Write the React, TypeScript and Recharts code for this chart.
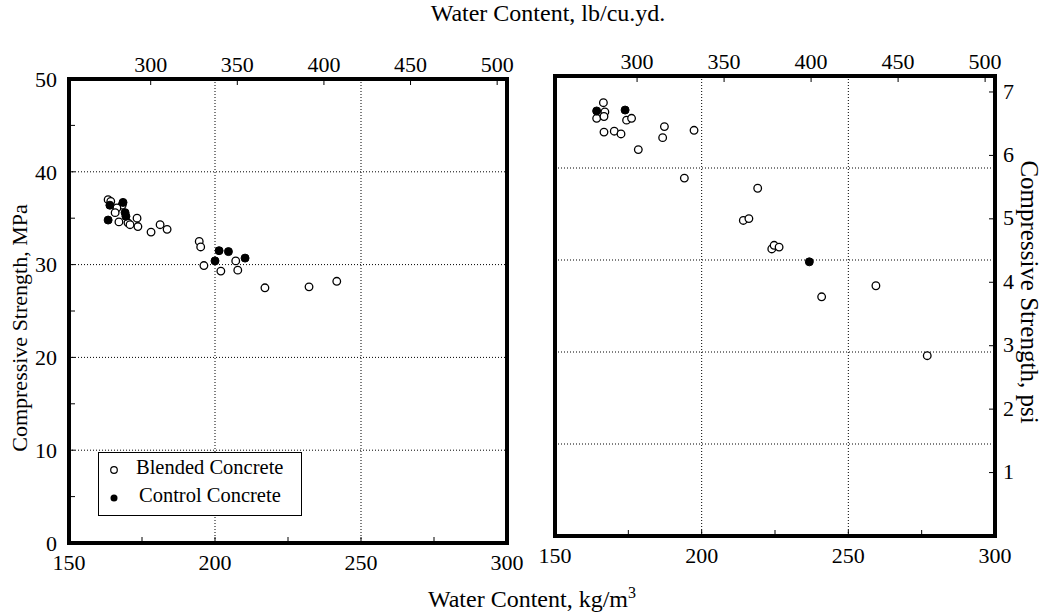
import React from "react"
import {
    ScatterChart,
    Scatter,
    XAxis,
    YAxis,
    CartesianGrid,
    ReferenceArea,
    Legend,
} from "recharts"

const FONT = '"Liberation Serif", "Times New Roman", serif'
const LB_PER_KG = 1.6856
const PSI_PER_MPA = 145.038

// axis ticks
const kgTicks = [150, 200, 250, 300]
const kgAllTicks = [150, 175, 200, 225, 250, 275, 300]
const lbTicks = [300, 350, 400, 450, 500]
const mpaTicks = [0, 10, 20, 30, 40, 50]
const mpaAllTicks = [0, 5, 10, 15, 20, 25, 30, 35, 40, 45, 50]
const psiTicks = [1000, 2000, 3000, 4000, 5000, 6000, 7000]

// left panel
const leftBlendedWater = [163.4, 164.3, 168.2, 166.4, 165.8, 167.1, 170.2, 173.3, 173.6, 170.9, 178.1, 181.2, 183.6, 194.6, 195.1, 196.2, 202.0, 207.1, 207.8, 217.1, 232.2, 241.7]
const leftBlendedStrength = [37.0, 36.8, 36.4, 36.1, 35.6, 34.6, 34.5, 35.0, 34.1, 34.3, 33.5, 34.3, 33.8, 32.5, 31.9, 29.9, 29.3, 30.4, 29.4, 27.5, 27.6, 28.2]
const leftControlWater = [164.0, 168.5, 169.2, 169.5, 163.4, 201.4, 204.6, 200.0, 210.3]
const leftControlStrength = [36.4, 36.7, 35.6, 35.2, 34.8, 31.5, 31.4, 30.4, 30.7]

// right panel
const rightBlendedWater = [166.5, 167.0, 164.2, 166.7, 174.4, 176.1, 166.7, 170.2, 172.5, 178.4, 187.3, 186.7, 197.4, 194.1, 219.1, 214.2, 216.1, 223.9, 224.7, 226.4, 240.9, 259.4, 276.9]
const rightBlendedStrength = [47.1, 46.1, 45.4, 45.6, 45.2, 45.4, 43.9, 44.0, 43.7, 42.0, 44.5, 43.3, 44.1, 38.9, 37.8, 34.3, 34.5, 31.2, 31.6, 31.4, 26.0, 27.2, 19.6]
const rightControlWater = [164.2, 173.9, 236.7]
const rightControlStrength = [46.2, 46.3, 29.8]

interface Pt {
    x: number
    y: number
}

const toPoints = (xs: number[], ys: number[]): Pt[] => xs.map((x, i) => ({ x, y: ys[i] }))

// lb/cu.yd ticks placed on the kg/m3 scale
const lbTicksInKg = lbTicks.map((v) => v / LB_PER_KG)

const TICK_FONT = 22
const TICK_LEN = 6

const OpenDot = (props: any) => (
    <circle cx={props.cx} cy={props.cy} r={3.8} fill="#fff" stroke="#000" strokeWidth={1.3} />
)
const FilledDot = (props: any) => (
    <circle cx={props.cx} cy={props.cy} r={4} fill="#000" stroke="#000" strokeWidth={1} />
)

const LegendBox = () => (
    <div
        style={{
            width: 204,
            height: 64,
            border: "1px solid #000",
            boxSizing: "border-box",
            background: "#fff",
            fontFamily: FONT,
            fontSize: 20.5,
            position: "relative",
            color: "#000",
        }}
    >
        <svg width={20} height={60} style={{ position: "absolute", left: 6, top: 0 }}>
            <circle cx={9} cy={17} r={3.3} fill="#fff" stroke="#000" strokeWidth={1.2} />
            <circle cx={9} cy={45} r={3.5} fill="#000" />
        </svg>
        <div style={{ position: "absolute", left: 37, top: 3, whiteSpace: "nowrap" }}>Blended Concrete</div>
        <div style={{ position: "absolute", left: 40, top: 31, whiteSpace: "nowrap" }}>Control Concrete</div>
    </div>
)

interface PanelProps {
    left: number
    width: number
    plotLeft: number
    plotRight: number
    plotTop: number
    plotBottom: number
    blended: Pt[]
    control: Pt[]
    mpaLabels: boolean
    psiLabels: boolean
    legend: boolean
}

const H = 615
const TOP_AXIS_H = 30
const BOTTOM_AXIS_H = 30
const MPA_AXIS_W = 40
const PSI_AXIS_W = 30

function Panel(p: PanelProps) {
    const margin = {
        top: p.plotTop - TOP_AXIS_H,
        bottom: H - p.plotBottom - BOTTOM_AXIS_H,
        left: p.plotLeft - (p.mpaLabels ? MPA_AXIS_W : 0),
        right: p.width - p.plotRight - (p.psiLabels ? PSI_AXIS_W : 0),
    }

    // ticks point into the frame, labels sit outside it
    const bottomTick = (t: any) => {
        const v = t.payload.value
        return (
            <g>
                <line x1={t.x} x2={t.x} y1={p.plotBottom} y2={p.plotBottom - TICK_LEN} stroke="#000" />
                {kgTicks.includes(v) && (
                    <text x={t.x} y={p.plotBottom + 27} textAnchor="middle" fontSize={TICK_FONT} fontFamily={FONT} fill="#000">
                        {v}
                    </text>
                )}
            </g>
        )
    }
    const topTick = (t: any) => (
        <g>
            <line x1={t.x} x2={t.x} y1={p.plotTop} y2={p.plotTop + TICK_LEN} stroke="#000" />
            <text x={t.x} y={p.plotTop - 7} textAnchor="middle" fontSize={TICK_FONT} fontFamily={FONT} fill="#000">
                {Math.round(t.payload.value * LB_PER_KG)}
            </text>
        </g>
    )
    const leftTick = (t: any) => {
        const v = t.payload.value
        return (
            <g>
                {v > 0 && v < 50 && (
                    <line x1={p.plotLeft} x2={p.plotLeft + TICK_LEN} y1={t.y} y2={t.y} stroke="#000" />
                )}
                {p.mpaLabels && mpaTicks.includes(v) && (
                    <text x={p.plotLeft - 12} y={t.y} dy="0.35em" textAnchor="end" fontSize={TICK_FONT} fontFamily={FONT} fill="#000">
                        {v}
                    </text>
                )}
            </g>
        )
    }
    const rightTick = (t: any) => (
        <g>
            <line x1={p.plotRight} x2={p.plotRight - TICK_LEN} y1={t.y} y2={t.y} stroke="#000" />
            {p.psiLabels && (
                <text x={p.plotRight + 8} y={t.y} dy="0.3em" textAnchor="start" fontSize={TICK_FONT} fontFamily={FONT} fill="#000">
                    {t.payload.value / 1000}
                </text>
            )}
        </g>
    )

    return (
        <div style={{ position: "absolute", left: p.left, top: 0 }}>
            <ScatterChart width={p.width} height={H} margin={margin}>
                <CartesianGrid
                    xAxisId="kg"
                    yAxisId="mpa"
                    stroke="#000"
                    strokeDasharray="1 2"
                    verticalValues={kgTicks}
                    horizontalValues={mpaTicks}
                />
                <XAxis
                    xAxisId="kg"
                    type="number"
                    dataKey="x"
                    domain={[150, 300]}
                    ticks={kgAllTicks}
                    interval={0}
                    allowDataOverflow
                    height={BOTTOM_AXIS_H}
                    tickLine={false}
                    axisLine={false}
                    tick={bottomTick}
                />
                <XAxis
                    xAxisId="lb"
                    type="number"
                    dataKey="x"
                    orientation="top"
                    domain={[150, 300]}
                    ticks={lbTicksInKg}
                    interval={0}
                    allowDataOverflow
                    height={TOP_AXIS_H}
                    tickLine={false}
                    axisLine={false}
                    tick={topTick}
                />
                <YAxis
                    yAxisId="mpa"
                    type="number"
                    dataKey="y"
                    domain={[0, 50]}
                    ticks={mpaAllTicks}
                    interval={0}
                    allowDataOverflow
                    width={p.mpaLabels ? MPA_AXIS_W : 0}
                    tickLine={false}
                    axisLine={false}
                    tick={leftTick}
                />
                <YAxis
                    yAxisId="psi"
                    type="number"
                    orientation="right"
                    domain={[0, 50 * PSI_PER_MPA]}
                    ticks={psiTicks}
                    interval={0}
                    allowDataOverflow
                    width={p.psiLabels ? PSI_AXIS_W : 0}
                    tickLine={false}
                    axisLine={false}
                    tick={rightTick}
                />
                <ReferenceArea
                    xAxisId="kg"
                    yAxisId="mpa"
                    x1={150}
                    x2={300}
                    y1={0}
                    y2={50}
                    fill="none"
                    fillOpacity={0}
                    stroke="#000"
                    strokeWidth={4}
                    ifOverflow="visible"
                />
                <Scatter
                    name="Blended Concrete"
                    xAxisId="kg"
                    yAxisId="mpa"
                    data={p.blended}
                    shape={OpenDot}
                    isAnimationActive={false}
                />
                <Scatter
                    name="Control Concrete"
                    xAxisId="kg"
                    yAxisId="mpa"
                    data={p.control}
                    shape={FilledDot}
                    isAnimationActive={false}
                />
                {p.legend && (
                    <Legend
                        layout="vertical"
                        align="center"
                        verticalAlign="middle"
                        wrapperStyle={{ left: 98, top: 452, width: 204, height: 64 }}
                        content={LegendBox}
                    />
                )}
            </ScatterChart>
        </div>
    )
}

export default function App() {
    return (
        <div style={{ position: "relative", width: 1044, height: 615, background: "#fff", fontFamily: FONT }}>
            <style>{"body{margin:0;background:#fff}"}</style>
            <svg width={1044} height={615} style={{ position: "absolute", left: 0, top: 0 }}>
                <g fontFamily={FONT} fill="#000">
                    <text x={548} y={21} fontSize={24} textAnchor="middle">Water Content, lb/cu.yd.</text>
                    <text x={532} y={607} fontSize={24} textAnchor="middle">
                        Water Content, kg/m<tspan dy={-9} fontSize={16}>3</tspan>
                    </text>
                    <text x={27} y={328} fontSize={22} textAnchor="middle" transform="rotate(-90 27 328)">
                        Compressive Strength, MPa
                    </text>
                    <text x={1021} y={292} fontSize={25} textAnchor="middle" transform="rotate(90 1021 292)">
                        Compressive Strength, psi
                    </text>
                </g>
            </svg>
            <Panel
                left={0}
                width={535}
                plotLeft={69}
                plotRight={507}
                plotTop={79}
                plotBottom={543}
                blended={toPoints(leftBlendedWater, leftBlendedStrength)}
                control={toPoints(leftControlWater, leftControlStrength)}
                mpaLabels
                psiLabels={false}
                legend
            />
            <Panel
                left={520}
                width={524}
                plotLeft={35}
                plotRight={475}
                plotTop={76}
                plotBottom={536}
                blended={toPoints(rightBlendedWater, rightBlendedStrength)}
                control={toPoints(rightControlWater, rightControlStrength)}
                mpaLabels={false}
                psiLabels
                legend={false}
            />
        </div>
    )
}
